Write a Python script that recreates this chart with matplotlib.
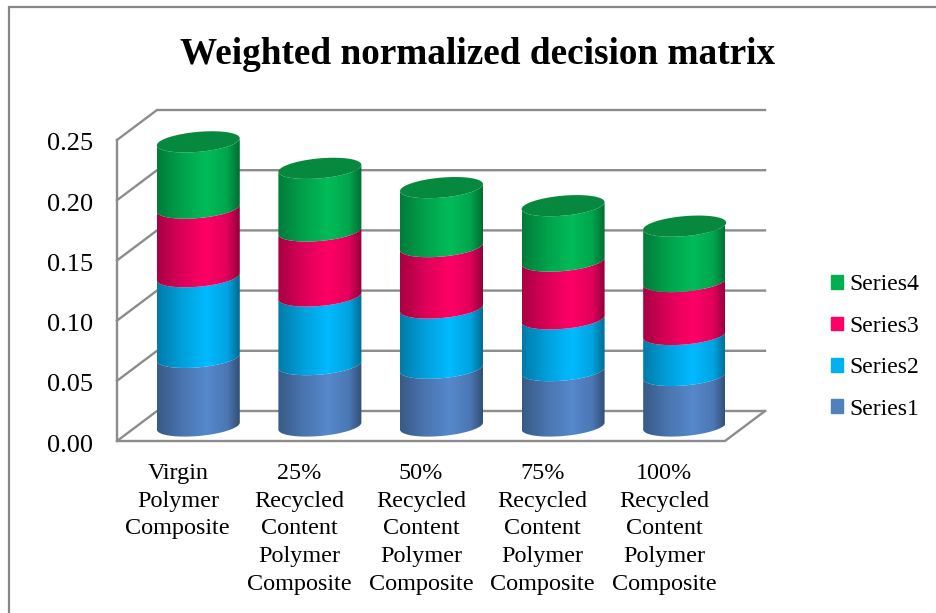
import numpy as np
import matplotlib
matplotlib.use('Agg')
import matplotlib.pyplot as plt
from matplotlib.colors import to_rgb
from matplotlib.lines import Line2D
from matplotlib.patches import Patch, Polygon
from matplotlib.transforms import ScaledTranslation

plt.rcParams['font.family'] = ['Liberation Serif', 'DejaVu Serif']

categories = ['Virgin\nPolymer\nComposite',
              '25%\nRecycled\nContent\nPolymer\nComposite',
              '50%\nRecycled\nContent\nPolymer\nComposite',
              '75%\nRecycled\nContent\nPolymer\nComposite',
              '100%\nRecycled\nContent\nPolymer\nComposite']
series1 = [0.057, 0.051, 0.048, 0.046, 0.042]
series2 = [0.067, 0.057, 0.050, 0.043, 0.034]
series3 = [0.057, 0.054, 0.051, 0.048, 0.044]
series4 = [0.055, 0.052, 0.049, 0.046, 0.046]
series_names = ['Series1', 'Series2', 'Series3', 'Series4']
y_ticks = [0.00, 0.05, 0.10, 0.15, 0.20, 0.25]

# colours: middle of the cylinder, legend swatch, top cap
side_colors = ['#5688CC', '#00BAFF', '#FF0066', '#00BC58']
legend_colors = ['#4F81BD', '#00B0F0', '#FF0066', '#00B050']
cap_color = '#06893F'

W, H = 936, 613
AX_L, AX_R, AX_TOP, AX_BOT = 117, 725, 140, 441

# 3d look, sizes in data units
DEPTH_X = 40 / ((AX_R - AX_L) / 5)
DEPTH_Y = 30 / ((AX_BOT - AX_TOP) / 0.25)
HALF_W = 41.5 / ((AX_R - AX_L) / 5)
ELL_B = 10 / ((AX_BOT - AX_TOP) / 0.25)
ELL_TILT = 3.5 / ((AX_BOT - AX_TOP) / 0.25)
GRID = '#8C8C8C'


def front_curve(cx, cy):
    t = np.linspace(np.pi, 2 * np.pi, 60)
    return cx + HALF_W * np.cos(t), cy + ELL_TILT * np.cos(t) + ELL_B * np.sin(t)


def shaded(color):
    pos = np.linspace(0, 1, 120)
    shade = np.interp(pos, [0, 0.3, 0.6, 0.85, 1], [0.66, 0.86, 1.0, 0.88, 0.58])
    return (np.array(to_rgb(color))[None, None, :] * shade[None, :, None]).clip(0, 1)


fig = plt.figure(figsize=(W / 100, H / 100), dpi=100, facecolor='white')
ax = fig.add_axes([AX_L / W, 1 - AX_BOT / H, (AX_R - AX_L) / W, (AX_BOT - AX_TOP) / H])
ax.patch.set_visible(False)

# walls and floor
for v in y_ticks:
    ax.plot([-0.5, -0.5 + DEPTH_X, 4.5 + DEPTH_X], [v, v + DEPTH_Y, v + DEPTH_Y],
            color=GRID, lw=1.7, clip_on=False, zorder=1)
ax.plot([-0.5, -0.5, 4.5, 4.5 + DEPTH_X], [0.25, 0, 0, DEPTH_Y],
        color=GRID, lw=1.7, clip_on=False, zorder=1, solid_joinstyle='miter')

# cylinders
all_series = [series1, series2, series3, series4]
for i in range(len(categories)):
    cx = i + DEPTH_X / 2 + 0.004
    base = DEPTH_Y / 2
    z = 3 + i
    for values, color in zip(all_series, side_colors):
        x_low, y_low = front_curve(cx, base)
        x_up, y_up = front_curve(cx, base + values[i])
        outline = np.column_stack([np.r_[x_up, x_low[::-1]], np.r_[y_up, y_low[::-1]]])
        poly = Polygon(outline, closed=True, transform=ax.transData, fc='none', ec='none')
        ax.add_patch(poly)
        img = ax.imshow(shaded(color), extent=[cx - HALF_W, cx + HALF_W, base - 0.02, base + values[i] + 0.02],
                        aspect='auto', interpolation='bilinear', zorder=z, clip_on=True)
        img.set_clip_path(poly)
        base += values[i]
    t = np.linspace(0, 2 * np.pi, 120)
    ax.fill(cx + HALF_W * np.cos(t), base + ELL_TILT * np.cos(t) + ELL_B * np.sin(t),
            color=cap_color, lw=0, zorder=z + 0.5, clip_on=False)

ax.set_xlim(-0.5, 4.5)
ax.set_ylim(0, 0.25)
for s in ax.spines.values():
    s.set_visible(False)
ax.set_xticks(range(len(categories)))
ax.set_xticklabels(categories, fontsize=17.4, linespacing=1.42)
ax.set_yticks(y_ticks)
ax.set_yticklabels([f'{v:.2f}' for v in y_ticks], fontsize=19)
ax.tick_params(axis='x', length=0, pad=15.7)
ax.tick_params(axis='y', length=0, pad=17)
for lab in ax.get_yticklabels():
    lab.set_transform(lab.get_transform() + ScaledTranslation(0, -2 / 100, fig.dpi_scale_trans))

fig.text(478 / W, 1 - 55 / H, 'Weighted normalized decision matrix', fontsize=26.8,
         fontweight='bold', ha='center', va='center')

handles = [Patch(color=c, label=n) for c, n in zip(legend_colors, series_names)][::-1]
fig.legend(handles=handles, loc='center left', bbox_to_anchor=(810 / W, 1 - 347 / H), frameon=False,
           fontsize=17, handlelength=0.51, handleheight=0.51, handletextpad=0.25, labelspacing=0.865)

# outer chart border, only left and top are in frame
fig.add_artist(Line2D([9 / W, 9 / W, 1], [0, 1 - 6.5 / H, 1 - 6.5 / H], color='#868686', lw=1.6,
                      transform=fig.transFigure, solid_joinstyle='miter'))

fig.savefig('out.png', dpi=100)
